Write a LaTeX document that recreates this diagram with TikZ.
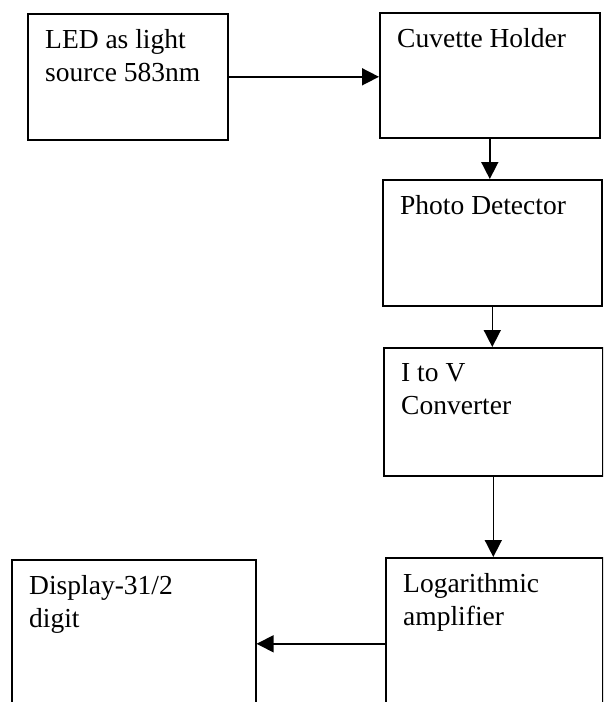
\documentclass[tikz,border=0pt]{standalone}
\usepackage{fontspec}
\setmainfont{Liberation Serif}
\usetikzlibrary{arrows.meta}

\begin{document}
\begin{tikzpicture}[
x=1pt, y=-1pt,
block/.style={
	draw, rectangle, line width=1.6pt,
	anchor=north west, inner sep=0pt
},
txt/.style={
	anchor=north west, align=left, inner sep=0pt,
	font=\fontsize{27.5}{33}\selectfont
},
flow/.style={-{Triangle[length=17pt,width=17pt]}, line width=1.6pt}
]
\useasboundingbox (0,0) rectangle (603,702);
\clip (0,0) rectangle (603,702);
% boxes
\node[block, minimum width=200, minimum height=126] (led) at (27,13) {};
\node[block, minimum width=220, minimum height=125] (cuvette) at (379,12) {};
\node[block, minimum width=219, minimum height=126] (photo) at (382,179) {};
\node[block, minimum width=219, minimum height=128] (iv) at (383,347) {};
\node[block, minimum width=217, minimum height=172] (logamp) at (385,557) {};
\node[block, minimum width=244, minimum height=168] (display) at (11,559) {};
% texts
\node[txt] (ledtxt) at ([shift={(18pt,-16pt)}]led.north west) {LED as light\\source 583nm};
\node[txt] (cuvettetxt) at ([shift={(18pt,-16pt)}]cuvette.north west) {Cuvette Holder};
\node[txt] (phototxt) at ([shift={(18pt,-16pt)}]photo.north west) {Photo Detector};
\node[txt] (ivtxt) at ([shift={(18pt,-16pt)}]iv.north west) {I to V\\Converter};
\node[txt] (logamptxt) at ([shift={(18pt,-16pt)}]logamp.north west) {Logarithmic\\amplifier};
\node[txt] (displaytxt) at ([shift={(18pt,-16pt)}]display.north west) {Display-31/2\\digit};
% arrows
\draw[flow] (led.east) -- (led.east -| cuvette.west);
\foreach \a/\b in {cuvette/photo, photo/iv, iv/logamp}
{
	\draw[flow] (\a.south) -- (\a.south |- \b.north);
}
\draw[flow] (logamp.west) -- (logamp.west -| display.east);
\end{tikzpicture}
\end{document}
